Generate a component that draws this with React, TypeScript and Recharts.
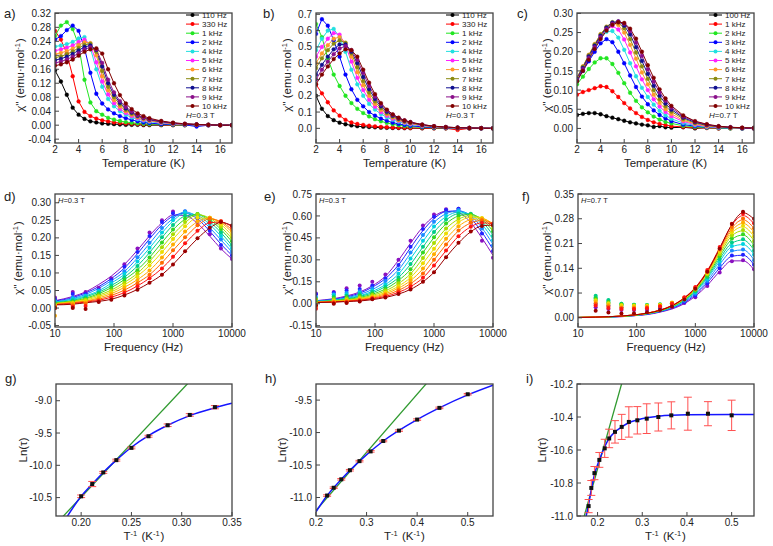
import React from "react";
import { ComposedChart, Line, XAxis, YAxis, ErrorBar } from "recharts";

const FONT = "'Liberation Sans', Arial, sans-serif";
const AX = "#444";
const INK = "#222";

// ---------- a) b) c): chi'' vs temperature ----------
const temps = [2, 2.5, 3, 3.5, 4, 4.5, 5, 5.5, 6, 6.5, 7, 7.5, 8, 8.5, 9, 9.5, 10, 11, 12, 13, 14, 15, 16, 17];
const namesAB = ["110 Hz", "330 Hz", "1 kHz", "2 kHz", "4 kHz", "5 kHz", "6 kHz", "7 kHz", "8 kHz", "9 kHz", "10 kHz"];
const namesC = ["100 Hz", "1 kHz", "2 kHz", "3 kHz", "4 kHz", "5 kHz", "6 kHz", "7 kHz", "8 kHz", "9 kHz", "10 kHz"];
const colT = ["#000000", "#ff0000", "#22e622", "#0000ff", "#22e0e0", "#ff22ff", "#ff9a2a", "#8a8a10", "#101090", "#8a108a", "#800000"];

const a110 = [0.157, 0.125, 0.087, 0.05, 0.03, 0.018, 0.011, 0.008, 0.005, 0.004, 0.003, 0.002, 0.001, 0.001, 0.001, 0, 0, 0, 0, 0, 0, 0, 0, 0];
const a330 = [0.27, 0.245, 0.205, 0.14, 0.068, 0.038, 0.026, 0.019, 0.014, 0.011, 0.008, 0.006, 0.005, 0.004, 0.003, 0.002, 0.002, 0.001, 0, 0, 0, 0, 0, 0];
const a1k = [0.255, 0.285, 0.295, 0.275, 0.23, 0.13, 0.065, 0.04, 0.03, 0.021, 0.016, 0.012, 0.009, 0.007, 0.005, 0.004, 0.003, 0.002, 0.001, 0, 0, 0, 0, 0];
const a2k = [0.245, 0.255, 0.272, 0.285, 0.27, 0.22, 0.15, 0.09, 0.062, 0.045, 0.034, 0.026, 0.02, 0.015, 0.011, 0.008, 0.006, 0.003, 0.002, 0.001, -0.004, 0, 0, 0];
const a4k = [0.225, 0.228, 0.232, 0.238, 0.248, 0.252, 0.22, 0.16, 0.11, 0.075, 0.054, 0.04, 0.03, 0.022, 0.017, 0.013, 0.01, 0.006, 0.003, 0.002, 0.001, 0, 0, 0];
const a5k = [0.213, 0.217, 0.222, 0.228, 0.238, 0.245, 0.23, 0.18, 0.125, 0.088, 0.063, 0.046, 0.035, 0.026, 0.02, 0.015, 0.012, 0.007, 0.004, 0.002, 0.001, 0, 0, 0];
const a6k = [0.203, 0.207, 0.212, 0.219, 0.229, 0.237, 0.235, 0.2, 0.14, 0.1, 0.072, 0.053, 0.04, 0.03, 0.023, 0.017, 0.013, 0.008, 0.005, 0.003, 0.002, 0.001, 0, 0];
const a7k = [0.193, 0.197, 0.203, 0.211, 0.221, 0.23, 0.233, 0.21, 0.155, 0.11, 0.08, 0.059, 0.044, 0.033, 0.025, 0.019, 0.015, 0.009, 0.005, 0.003, 0.002, 0.001, 0, 0];
const a8k = [0.186, 0.19, 0.196, 0.204, 0.214, 0.224, 0.228, 0.215, 0.168, 0.12, 0.087, 0.064, 0.048, 0.036, 0.027, 0.021, 0.016, 0.01, 0.006, 0.003, 0.002, 0.001, 0, 0];
const a9k = [0.178, 0.182, 0.188, 0.196, 0.206, 0.217, 0.223, 0.217, 0.178, 0.13, 0.094, 0.069, 0.052, 0.039, 0.029, 0.022, 0.017, 0.011, 0.006, 0.004, 0.002, 0.001, 0, 0];
const a10k = [0.17, 0.174, 0.18, 0.188, 0.199, 0.21, 0.217, 0.22, 0.205, 0.16, 0.12, 0.086, 0.062, 0.046, 0.034, 0.026, 0.02, 0.012, 0.007, 0.004, 0.002, 0.001, 0, 0];

const b110 = [0.2, 0.12, 0.075, 0.05, 0.035, 0.025, 0.018, 0.013, 0.01, 0.008, 0.006, 0.004, 0.003, 0.002, 0.002, 0.001, 0.001, 0, 0, 0, 0, 0, 0, 0];
const b330 = [0.27, 0.215, 0.16, 0.11, 0.078, 0.052, 0.036, 0.027, 0.021, 0.016, 0.012, 0.009, 0.007, 0.005, 0.004, 0.003, 0.002, 0.001, 0, 0, -0.01, 0, 0, 0];
const b1k = [0.64, 0.56, 0.43, 0.33, 0.26, 0.2, 0.155, 0.12, 0.094, 0.073, 0.056, 0.043, 0.033, 0.025, 0.019, 0.014, 0.011, 0.006, 0.003, 0.002, 0.001, 0, 0, 0];
const b2k = [0.58, 0.67, 0.63, 0.54, 0.44, 0.33, 0.24, 0.175, 0.135, 0.1, 0.078, 0.06, 0.046, 0.035, 0.027, 0.021, 0.016, 0.009, 0.005, 0.003, 0.002, 0.001, 0, 0];
const b4k = [0.48, 0.55, 0.6, 0.61, 0.56, 0.47, 0.36, 0.27, 0.2, 0.15, 0.115, 0.088, 0.068, 0.052, 0.04, 0.031, 0.024, 0.014, 0.008, 0.005, 0.003, 0.002, 0.001, 0];
const b5k = [0.44, 0.5, 0.55, 0.585, 0.575, 0.51, 0.41, 0.31, 0.235, 0.175, 0.133, 0.1, 0.077, 0.059, 0.046, 0.035, 0.027, 0.016, 0.009, 0.005, 0.003, 0.002, 0.001, 0];
const b6k = [0.4, 0.46, 0.51, 0.55, 0.56, 0.525, 0.44, 0.345, 0.265, 0.2, 0.15, 0.113, 0.086, 0.066, 0.05, 0.039, 0.03, 0.018, 0.01, 0.006, 0.003, 0.002, 0.001, 0];
const b7k = [0.37, 0.43, 0.48, 0.52, 0.54, 0.525, 0.46, 0.375, 0.29, 0.22, 0.165, 0.124, 0.094, 0.072, 0.055, 0.042, 0.033, 0.02, 0.011, 0.006, 0.004, 0.002, 0.001, 0];
const b8k = [0.33, 0.39, 0.44, 0.485, 0.515, 0.515, 0.47, 0.4, 0.315, 0.24, 0.18, 0.135, 0.102, 0.078, 0.06, 0.046, 0.036, 0.021, 0.012, 0.007, 0.004, 0.002, 0.001, 0];
const b9k = [0.3, 0.36, 0.41, 0.455, 0.49, 0.505, 0.48, 0.42, 0.34, 0.26, 0.195, 0.146, 0.11, 0.084, 0.064, 0.049, 0.038, 0.023, 0.013, 0.007, 0.004, 0.002, 0.001, 0];
const b10k = [0.27, 0.33, 0.38, 0.425, 0.46, 0.485, 0.48, 0.44, 0.36, 0.28, 0.21, 0.155, 0.115, 0.086, 0.065, 0.049, 0.038, 0.023, 0.013, 0.008, 0.004, 0.002, 0.001, 0];

const c100 = [0.035, 0.038, 0.04, 0.04, 0.037, 0.032, 0.028, 0.024, 0.02, 0.016, 0.013, 0.01, 0.008, 0.004, 0.006, 0.003, 0.002, 0.003, 0, 0.002, 0, 0.001, 0, 0.002];
const c1k = [0.088, 0.095, 0.1, 0.105, 0.11, 0.108, 0.097, 0.082, 0.066, 0.052, 0.04, 0.03, 0.022, 0.016, 0.012, 0.009, 0.006, 0.004, 0.002, 0.001, 0, 0, 0, 0];
const c2k = [0.115, 0.135, 0.155, 0.172, 0.183, 0.183, 0.168, 0.145, 0.118, 0.093, 0.072, 0.055, 0.042, 0.031, 0.023, 0.017, 0.013, 0.007, 0.004, 0.002, 0.001, 0, 0, 0];
const c3k = [0.125, 0.15, 0.175, 0.2, 0.222, 0.233, 0.225, 0.2, 0.17, 0.138, 0.108, 0.083, 0.063, 0.047, 0.035, 0.026, 0.019, 0.01, 0.006, 0.003, 0.002, 0.001, 0, 0];
const c4k = [0.13, 0.158, 0.185, 0.212, 0.236, 0.252, 0.254, 0.237, 0.205, 0.17, 0.136, 0.106, 0.082, 0.062, 0.046, 0.034, 0.025, 0.014, 0.008, 0.004, 0.002, 0.001, 0, 0];
const c5k = [0.132, 0.16, 0.19, 0.217, 0.242, 0.26, 0.267, 0.258, 0.232, 0.198, 0.162, 0.128, 0.1, 0.076, 0.057, 0.043, 0.032, 0.018, 0.01, 0.005, 0.003, 0.002, 0.001, 0];
const c6k = [0.133, 0.162, 0.192, 0.22, 0.246, 0.265, 0.275, 0.27, 0.25, 0.218, 0.182, 0.146, 0.115, 0.088, 0.067, 0.05, 0.038, 0.021, 0.012, 0.006, 0.004, 0.002, 0.001, 0];
const c7k = [0.132, 0.161, 0.191, 0.219, 0.245, 0.265, 0.277, 0.276, 0.261, 0.233, 0.198, 0.162, 0.129, 0.1, 0.076, 0.058, 0.044, 0.025, 0.014, 0.008, 0.004, 0.002, 0.001, 0];
const c8k = [0.13, 0.158, 0.188, 0.216, 0.242, 0.263, 0.276, 0.279, 0.268, 0.245, 0.212, 0.176, 0.142, 0.111, 0.085, 0.065, 0.049, 0.028, 0.016, 0.009, 0.005, 0.003, 0.001, 0];
const c9k = [0.127, 0.155, 0.184, 0.212, 0.238, 0.259, 0.273, 0.279, 0.273, 0.254, 0.224, 0.189, 0.154, 0.122, 0.094, 0.072, 0.054, 0.031, 0.018, 0.01, 0.005, 0.003, 0.001, 0];
const c10k = [0.123, 0.15, 0.179, 0.207, 0.233, 0.255, 0.27, 0.277, 0.275, 0.26, 0.234, 0.2, 0.165, 0.132, 0.102, 0.078, 0.059, 0.034, 0.019, 0.011, 0.006, 0.003, 0.002, 0.001];

// ---------- d) e) f): chi'' vs frequency (points + fits) ----------
const freqs = [10, 20, 33, 55, 90, 150, 250, 400, 650, 1000, 1600, 2600, 4200, 6500, 10000];
const rainbow = ["#8a10c0", "#2222ff", "#1a8cff", "#00d2e0", "#00cc88", "#33d622", "#a8dc00", "#ecdc00", "#ffac00", "#ff6a00", "#ff1414", "#9a0000"];

const dFit = [
  [0.021, 0.033, 0.046, 0.067, 0.091, 0.124, 0.165, 0.206, 0.243, 0.265, 0.264, 0.241, 0.205, 0.169, 0.14],
  [0.02, 0.03, 0.043, 0.061, 0.084, 0.114, 0.155, 0.197, 0.237, 0.262, 0.27, 0.254, 0.219, 0.182, 0.15],
  [0.018, 0.027, 0.039, 0.056, 0.078, 0.104, 0.143, 0.184, 0.226, 0.255, 0.274, 0.26, 0.229, 0.194, 0.16],
  [0.017, 0.025, 0.035, 0.049, 0.071, 0.096, 0.132, 0.171, 0.214, 0.248, 0.27, 0.264, 0.238, 0.205, 0.169],
  [0.016, 0.022, 0.032, 0.045, 0.064, 0.088, 0.12, 0.158, 0.201, 0.236, 0.262, 0.266, 0.246, 0.215, 0.178],
  [0.015, 0.02, 0.028, 0.041, 0.058, 0.081, 0.109, 0.144, 0.187, 0.223, 0.253, 0.267, 0.252, 0.224, 0.189],
  [0.014, 0.019, 0.026, 0.037, 0.051, 0.073, 0.099, 0.133, 0.173, 0.209, 0.243, 0.266, 0.256, 0.231, 0.198],
  [0.012, 0.018, 0.023, 0.033, 0.046, 0.066, 0.091, 0.121, 0.159, 0.196, 0.232, 0.257, 0.256, 0.238, 0.207],
  [0.011, 0.016, 0.02, 0.029, 0.041, 0.059, 0.081, 0.107, 0.144, 0.18, 0.217, 0.246, 0.256, 0.243, 0.216],
  [0.01, 0.015, 0.019, 0.025, 0.036, 0.051, 0.072, 0.095, 0.129, 0.164, 0.201, 0.235, 0.254, 0.246, 0.223],
  [0.01, 0.013, 0.017, 0.022, 0.031, 0.044, 0.063, 0.085, 0.113, 0.145, 0.184, 0.219, 0.243, 0.245, 0.231],
  [0.009, 0.011, 0.015, 0.019, 0.025, 0.037, 0.053, 0.072, 0.095, 0.124, 0.161, 0.198, 0.228, 0.244, 0.235],
];
const dPts = [
  [0.03, 0.046, 0.046, 0.058, 0.085, 0.125, 0.17, 0.215, 0.25, 0.275, 0.272, 0.245, 0.21, 0.17, 0.14],
  [0.025, 0.04, 0.04, 0.052, 0.08, 0.118, 0.16, 0.205, 0.245, 0.27, 0.275, 0.255, 0.22, 0.18, 0.15],
  [0.02, 0.03, 0.036, 0.05, 0.075, 0.105, 0.145, 0.186, 0.228, 0.258, 0.276, 0.26, 0.23, 0.195, 0.16],
  [0.018, 0.026, 0.034, 0.048, 0.07, 0.097, 0.133, 0.172, 0.215, 0.25, 0.272, 0.265, 0.24, 0.205, 0.17],
  [0.015, 0.022, 0.03, 0.044, 0.063, 0.088, 0.12, 0.158, 0.202, 0.237, 0.264, 0.268, 0.247, 0.215, 0.18],
  [0.012, 0.018, 0.026, 0.04, 0.057, 0.08, 0.108, 0.144, 0.187, 0.224, 0.255, 0.268, 0.252, 0.225, 0.19],
  [0.01, 0.016, 0.024, 0.036, 0.05, 0.072, 0.099, 0.133, 0.173, 0.21, 0.245, 0.267, 0.257, 0.232, 0.2],
  [0.008, 0.014, 0.02, 0.032, 0.045, 0.065, 0.09, 0.121, 0.16, 0.197, 0.233, 0.258, 0.257, 0.238, 0.208],
  [-0.022, 0.012, 0.016, 0.028, 0.04, 0.058, 0.08, 0.107, 0.144, 0.181, 0.218, 0.247, 0.257, 0.244, 0.218],
  [0.005, 0.008, 0.012, 0.023, 0.035, 0.05, 0.071, 0.095, 0.129, 0.165, 0.202, 0.236, 0.255, 0.247, 0.225],
  [0, 0.004, 0.006, 0.02, 0.03, 0.043, 0.062, 0.085, 0.113, 0.146, 0.185, 0.22, 0.244, 0.247, 0.232],
  [0, 0, -0.003, 0.017, 0.024, 0.036, 0.052, 0.072, 0.095, 0.124, 0.162, 0.199, 0.229, 0.245, 0.235],
];

const eFit = [
  [0.021, 0.035, 0.053, 0.08, 0.123, 0.188, 0.297, 0.414, 0.526, 0.597, 0.632, 0.622, 0.554, 0.449, 0.33],
  [0.02, 0.031, 0.047, 0.072, 0.113, 0.172, 0.265, 0.383, 0.5, 0.582, 0.63, 0.635, 0.584, 0.488, 0.371],
  [0.018, 0.028, 0.041, 0.064, 0.097, 0.151, 0.232, 0.345, 0.466, 0.556, 0.615, 0.635, 0.602, 0.518, 0.406],
  [0.016, 0.025, 0.037, 0.055, 0.084, 0.131, 0.203, 0.308, 0.427, 0.524, 0.595, 0.626, 0.609, 0.542, 0.44],
  [0.015, 0.022, 0.033, 0.05, 0.074, 0.117, 0.179, 0.27, 0.388, 0.489, 0.572, 0.614, 0.613, 0.562, 0.469],
  [0.013, 0.02, 0.029, 0.043, 0.065, 0.101, 0.159, 0.234, 0.35, 0.453, 0.546, 0.599, 0.61, 0.576, 0.496],
  [0.013, 0.019, 0.026, 0.037, 0.057, 0.088, 0.138, 0.204, 0.312, 0.414, 0.513, 0.578, 0.602, 0.583, 0.517],
  [0.012, 0.017, 0.023, 0.034, 0.05, 0.077, 0.12, 0.179, 0.276, 0.375, 0.479, 0.557, 0.591, 0.586, 0.536],
  [0.01, 0.015, 0.02, 0.03, 0.044, 0.068, 0.106, 0.158, 0.239, 0.337, 0.443, 0.529, 0.574, 0.58, 0.547],
  [0.01, 0.014, 0.018, 0.026, 0.038, 0.059, 0.091, 0.137, 0.206, 0.299, 0.404, 0.498, 0.552, 0.569, 0.549],
  [0.009, 0.012, 0.017, 0.023, 0.034, 0.05, 0.078, 0.117, 0.177, 0.261, 0.363, 0.461, 0.526, 0.553, 0.547],
  [0.008, 0.011, 0.015, 0.019, 0.028, 0.043, 0.066, 0.098, 0.15, 0.215, 0.318, 0.415, 0.492, 0.532, 0.538],
];
const ePts = [
  [0.07, 0.08, 0.105, 0.125, 0.15, 0.2, 0.3, 0.43, 0.535, 0.61, 0.645, 0.65, 0.555, 0.43, 0.315],
  [0.065, 0.075, 0.09, 0.1, 0.125, 0.175, 0.265, 0.39, 0.51, 0.595, 0.64, 0.65, 0.59, 0.48, 0.36],
  [0.045, 0.065, 0.075, 0.085, 0.105, 0.155, 0.235, 0.35, 0.47, 0.56, 0.62, 0.64, 0.6, 0.515, 0.4],
  [0.04, 0.06, 0.065, 0.075, 0.09, 0.13, 0.205, 0.31, 0.43, 0.528, 0.6, 0.63, 0.61, 0.54, 0.435],
  [0.03, 0.05, 0.055, 0.065, 0.08, 0.115, 0.18, 0.272, 0.39, 0.49, 0.575, 0.615, 0.615, 0.56, 0.465],
  [0.02, 0.04, 0.045, 0.055, 0.07, 0.1, 0.16, 0.235, 0.35, 0.455, 0.548, 0.6, 0.61, 0.575, 0.495],
  [0.03, 0.03, 0.035, 0.045, 0.06, 0.09, 0.14, 0.205, 0.312, 0.415, 0.515, 0.58, 0.602, 0.582, 0.515],
  [0, 0.02, 0.025, 0.035, 0.05, 0.078, 0.12, 0.18, 0.277, 0.376, 0.48, 0.558, 0.592, 0.586, 0.535],
  [-0.01, 0.015, 0.02, 0.03, 0.045, 0.068, 0.106, 0.158, 0.24, 0.338, 0.444, 0.53, 0.575, 0.58, 0.545],
  [-0.02, 0.01, 0.015, 0.025, 0.04, 0.06, 0.092, 0.137, 0.206, 0.3, 0.405, 0.5, 0.553, 0.57, 0.548],
  [-0.035, 0.005, 0.01, 0.02, 0.035, 0.05, 0.078, 0.117, 0.177, 0.262, 0.364, 0.462, 0.527, 0.553, 0.546],
  [-0.01, 0, 0.005, 0.015, 0.03, 0.043, 0.066, 0.098, 0.15, 0.216, 0.318, 0.416, 0.493, 0.532, 0.537],
];

const fFit = [
  [0.001, 0.001, 0.002, 0.003, 0.006, 0.009, 0.016, 0.025, 0.04, 0.061, 0.092, 0.131, 0.161, 0.161, 0.136],
  [0.001, 0.001, 0.002, 0.004, 0.006, 0.01, 0.017, 0.027, 0.043, 0.065, 0.099, 0.141, 0.174, 0.177, 0.15],
  [0.001, 0.001, 0.002, 0.004, 0.006, 0.011, 0.018, 0.028, 0.046, 0.069, 0.105, 0.151, 0.188, 0.192, 0.164],
  [0.001, 0.001, 0.002, 0.004, 0.007, 0.011, 0.019, 0.03, 0.048, 0.073, 0.111, 0.16, 0.201, 0.207, 0.179],
  [0.001, 0.002, 0.003, 0.004, 0.007, 0.012, 0.019, 0.031, 0.05, 0.075, 0.115, 0.167, 0.211, 0.22, 0.192],
  [0.001, 0.002, 0.003, 0.004, 0.007, 0.012, 0.02, 0.032, 0.051, 0.078, 0.119, 0.174, 0.222, 0.234, 0.205],
  [0.001, 0.002, 0.003, 0.004, 0.007, 0.012, 0.02, 0.033, 0.053, 0.08, 0.123, 0.18, 0.232, 0.246, 0.218],
  [0.001, 0.002, 0.003, 0.005, 0.008, 0.013, 0.021, 0.033, 0.054, 0.082, 0.126, 0.185, 0.24, 0.257, 0.23],
  [0.001, 0.002, 0.003, 0.005, 0.008, 0.013, 0.021, 0.034, 0.055, 0.083, 0.128, 0.189, 0.247, 0.267, 0.242],
  [0.001, 0.002, 0.003, 0.005, 0.008, 0.013, 0.022, 0.034, 0.056, 0.084, 0.13, 0.193, 0.254, 0.277, 0.253],
  [0.001, 0.002, 0.003, 0.005, 0.008, 0.013, 0.022, 0.035, 0.057, 0.086, 0.133, 0.198, 0.262, 0.289, 0.266],
  [0.001, 0.002, 0.003, 0.005, 0.008, 0.013, 0.021, 0.034, 0.056, 0.084, 0.131, 0.196, 0.264, 0.297, 0.279],
];
const fPts = [
  [null, 0.03, 0.025, 0.022, 0.022, 0.022, 0.025, 0.03, 0.042, 0.058, 0.09, 0.128, 0.16, 0.163, 0.137],
  [null, 0.04, 0.035, 0.03, 0.028, 0.028, 0.03, 0.034, 0.045, 0.063, 0.097, 0.14, 0.176, 0.178, 0.15],
  [null, 0.05, 0.042, 0.035, 0.033, 0.032, 0.034, 0.037, 0.048, 0.068, 0.104, 0.15, 0.19, 0.193, 0.163],
  [null, 0.058, 0.048, 0.04, 0.037, 0.036, 0.037, 0.04, 0.05, 0.072, 0.11, 0.16, 0.203, 0.209, 0.178],
  [null, 0.062, 0.05, 0.04, 0.037, 0.036, 0.038, 0.041, 0.052, 0.075, 0.115, 0.166, 0.213, 0.222, 0.19],
  [null, 0.055, 0.045, 0.038, 0.036, 0.035, 0.037, 0.041, 0.053, 0.078, 0.119, 0.174, 0.224, 0.236, 0.204],
  [null, 0.05, 0.042, 0.036, 0.035, 0.035, 0.037, 0.042, 0.054, 0.08, 0.123, 0.18, 0.233, 0.248, 0.217],
  [null, 0.048, 0.04, 0.035, 0.034, 0.034, 0.037, 0.043, 0.056, 0.082, 0.126, 0.186, 0.241, 0.26, 0.23],
  [null, 0.045, 0.036, 0.03, 0.03, 0.031, 0.035, 0.042, 0.057, 0.084, 0.129, 0.19, 0.249, 0.27, 0.242],
  [null, 0.04, 0.032, 0.028, 0.027, 0.029, 0.033, 0.041, 0.057, 0.085, 0.131, 0.195, 0.257, 0.281, 0.253],
  [null, 0.035, 0.028, 0.025, 0.025, 0.027, 0.032, 0.04, 0.058, 0.087, 0.135, 0.2, 0.266, 0.295, 0.267],
  [null, 0.02, 0.015, 0.012, 0.013, 0.016, 0.022, 0.032, 0.052, 0.082, 0.13, 0.195, 0.265, 0.3, 0.28],
];

// ---------- g) h) i): ln(tau) vs 1/T ----------
const gX = [0.2, 0.211, 0.222, 0.235, 0.25, 0.267, 0.286, 0.308, 0.333];
const gY = [-10.48, -10.29, -10.11, -9.92, -9.73, -9.55, -9.38, -9.22, -9.1];
const gErr = [0.02, 0.04, 0.015, 0.015, 0.015, 0.015, 0.02, 0.02, 0.025];
const gFitX = [0.185, 0.2, 0.211, 0.222, 0.235, 0.25, 0.267, 0.286, 0.308, 0.333, 0.35];
const gFitY = [-10.82, -10.48, -10.29, -10.11, -9.92, -9.72, -9.54, -9.38, -9.23, -9.11, -9.04];
const gArrX = [0.18, 0.31];
const gArrY = [-10.825, -8.667];

const hX = [0.222, 0.235, 0.25, 0.267, 0.286, 0.308, 0.333, 0.364, 0.4, 0.444, 0.5];
const hY = [-10.97, -10.85, -10.72, -10.58, -10.44, -10.29, -10.13, -9.97, -9.8, -9.62, -9.41];
const hErr = [0.012, 0.012, 0.012, 0.012, 0.012, 0.012, 0.012, 0.012, 0.012, 0.012, 0.012];
const hFitX = [0.2, 0.222, 0.25, 0.286, 0.333, 0.4, 0.444, 0.5, 0.55];
const hFitY = [-11.22, -10.97, -10.72, -10.44, -10.13, -9.8, -9.62, -9.42, -9.27];
const hArrX = [0.2, 0.42];
const hArrY = [-11.2, -9.23];

const iX = [0.18, 0.186, 0.193, 0.204, 0.216, 0.226, 0.239, 0.254, 0.27, 0.289, 0.31, 0.336, 0.365, 0.402, 0.447, 0.5];
const iY = [-10.94, -10.83, -10.74, -10.66, -10.59, -10.53, -10.49, -10.46, -10.43, -10.42, -10.41, -10.4, -10.39, -10.38, -10.38, -10.39];
const iErr = [0.04, 0.045, 0.04, 0.045, 0.055, 0.056, 0.068, 0.076, 0.092, 0.083, 0.09, 0.085, 0.082, 0.1, 0.073, 0.092];
const iFitX = [0.172, 0.18, 0.186, 0.193, 0.204, 0.216, 0.226, 0.239, 0.254, 0.27, 0.289, 0.31, 0.336, 0.4, 0.5, 0.55];
const iFitY = [-11.03, -10.93, -10.84, -10.75, -10.66, -10.58, -10.53, -10.49, -10.46, -10.435, -10.418, -10.405, -10.395, -10.387, -10.385, -10.385];
const iArrX = [0.165, 0.26];
const iArrY = [-11.05, -10.14];

// plot frames in page pixels: [left, top, right, bottom]
const FR = {
  a: [55, 13, 232, 143], b: [316, 13, 493, 143], c: [577, 13, 754, 143],
  d: [55, 194, 232, 327], e: [316, 194, 493, 327], f: [578, 194, 754, 327],
  g: [56, 384, 232, 516], h: [316, 384, 493, 516], i: [577, 384, 754, 516],
};

const PL = 60, PT = 8, PR = 22, PB = 22, TM = 2;

const rows = (xs: number[], ys: (number | null)[], es?: number[]) =>
  xs.flatMap((x, k) => (ys[k] == null ? [] : [{ x, y: ys[k], e: es ? es[k] : 0 }]));

const f0 = (v: number) => String(v);
const f1 = (v: number) => v.toFixed(1);
const f2 = (v: number) => v.toFixed(2);

const XTick = (p: any) => (
  <g>
    <line x1={p.x} x2={p.x} y1={p.y - TM} y2={p.y - TM - 4} stroke={AX} />
    <text x={p.x} y={p.y} dy="0.78em" textAnchor="middle" fontSize={10} fill={INK} fontFamily={FONT}>
      {p.fmt(p.payload.value)}
    </text>
  </g>
);
const YTick = (p: any) => (
  <g>
    <line x1={p.x + 4} x2={p.x + 8} y1={p.y} y2={p.y} stroke={AX} />
    <text x={p.x} y={p.y} dy="0.36em" textAnchor="end" fontSize={10} fill={INK} fontFamily={FONT}>
      {p.fmt(p.payload.value)}
    </text>
  </g>
);

type Ax = { domain: number[]; ticks: number[]; fmt: (v: number) => string; log?: boolean };

function Plot({ fr, xa, ya, children }: { fr: number[]; xa: Ax; ya: Ax; children: any }) {
  const [x0, y0, x1, y1] = fr;
  return (
    <div style={{ position: "absolute", left: x0 - PL, top: y0 - PT }}>
      <ComposedChart width={x1 - x0 + PL + PR} height={y1 - y0 + PT + PB} margin={{ top: PT, right: PR, bottom: 0, left: 0 }}>
        <XAxis type="number" dataKey="x" scale={xa.log ? "log" : "linear"} domain={xa.domain} ticks={xa.ticks}
          allowDataOverflow interval={0} height={PB} axisLine={false} tickSize={0} tickMargin={TM}
          tick={(p: any) => <XTick {...p} fmt={xa.fmt} />} />
        <YAxis type="number" domain={ya.domain} ticks={ya.ticks} allowDataOverflow interval={0} width={PL}
          axisLine={false} tickSize={0} tickMargin={4} tick={(p: any) => <YTick {...p} fmt={ya.fmt} />} />
        {children}
      </ComposedChart>
    </div>
  );
}

const xTemp: Ax = { domain: [2, 17], ticks: [2, 4, 6, 8, 10, 12, 14, 16], fmt: f0 };
const xFreq: Ax = { domain: [10, 10000], ticks: [10, 100, 1000, 10000], fmt: f0, log: true };

function TempPlot({ fr, ya, series }: { fr: number[]; ya: Ax; series: number[][] }) {
  return (
    <Plot fr={fr} xa={xTemp} ya={ya}>
      {series.map((ys, k) => (
        <Line key={k} data={rows(temps, ys)} dataKey="y" type="linear" stroke={colT[k]} strokeWidth={1}
          dot={{ r: 1.9, fill: colT[k], stroke: colT[k], strokeWidth: 0.4 }} activeDot={false} isAnimationActive={false} />
      ))}
    </Plot>
  );
}

function FreqPlot({ fr, ya, fits, dots }: { fr: number[]; ya: Ax; fits: number[][]; dots: (number | null)[][] }) {
  return (
    <Plot fr={fr} xa={xFreq} ya={ya}>
      {dots.map((ys, k) => (
        <Line key={"p" + k} data={rows(freqs, ys)} dataKey="y" stroke="none"
          dot={{ r: 2, fill: rainbow[k], stroke: "none" }} activeDot={false} isAnimationActive={false} />
      ))}
      {fits.map((ys, k) => (
        <Line key={"f" + k} data={rows(freqs, ys)} dataKey="y" type="monotone" stroke={rainbow[k]} strokeWidth={1}
          dot={false} activeDot={false} isAnimationActive={false} />
      ))}
    </Plot>
  );
}

const Square = (p: any) =>
  p.cx == null || p.cy == null ? <g key={p.key} /> : <rect key={p.key} x={p.cx - 2} y={p.cy - 2} width={4} height={4} fill="#111" />;

function TauPlot(props: { fr: number[]; xa: Ax; ya: Ax; px: number[]; py: number[]; pe: number[]; fx: number[]; fy: number[]; ax: number[]; ay: number[] }) {
  const { fr, xa, ya, px, py, pe, fx, fy, ax, ay } = props;
  return (
    <Plot fr={fr} xa={xa} ya={ya}>
      <Line data={rows(ax, ay)} dataKey="y" type="linear" stroke="#2f9a2f" strokeWidth={1.3} dot={false} activeDot={false} isAnimationActive={false} />
      <Line data={rows(fx, fy)} dataKey="y" type="monotone" stroke="#1515ff" strokeWidth={1.5} dot={false} activeDot={false} isAnimationActive={false} />
      <Line data={rows(px, py, pe)} dataKey="y" stroke="none" dot={Square} activeDot={false} isAnimationActive={false}>
        <ErrorBar dataKey="e" direction="y" width={4} stroke="#ff5050" strokeWidth={1} />
      </Line>
    </Plot>
  );
}

const Sup = ({ t }: { t: string }) => (
  <>
    <tspan dy={-4} fontSize={7.5}>{t}</tspan>
    <tspan dy={4}>{"\u200A"}</tspan>
  </>
);

const ChiTitle = ({ x, y }: { x: number; y: number }) => (
  <text transform={`translate(${x},${y}) rotate(-90)`} textAnchor="middle" fontSize={11.5} fill={INK}>
    χ'' (emu·mol<Sup t="-1" />)
  </text>
);
const LnTitle = ({ x, y }: { x: number; y: number }) => (
  <text transform={`translate(${x},${y}) rotate(-90)`} textAnchor="middle" fontSize={11.5} fill={INK}>Ln(τ)</text>
);
const XTitle = ({ fr, children }: { fr: number[]; children: any }) => (
  <text x={(fr[0] + fr[2]) / 2} y={fr[3] + 24} textAnchor="middle" fontSize={11.5} fill={INK}>{children}</text>
);
const InvT = () => (
  <>
    T<Sup t="-1" /> (K<Sup t="-1" />)
  </>
);

const LegendBox = ({ x, y, names, field }: { x: number; y: number; names: string[]; field: string }) => (
  <g>
    {names.map((n, k) => (
      <g key={n}>
        <line x1={x} x2={x + 13} y1={y + k * 9.1} y2={y + k * 9.1} stroke={colT[k]} strokeWidth={1} />
        <circle cx={x + 6.5} cy={y + k * 9.1} r={2} fill={colT[k]} />
        <text x={x + 16} y={y + k * 9.1 + 2.8} fontSize={8} fill={INK}>{n}</text>
      </g>
    ))}
    <text x={x} y={y + names.length * 9.1 + 3} fontSize={8} fill={INK}>
      <tspan fontStyle="italic">H</tspan>={field}
    </text>
  </g>
);

const Field = ({ fr, field }: { fr: number[]; field: string }) => (
  <text x={fr[0] + 3} y={fr[1] + 9} fontSize={7.5} fill={INK}>
    <tspan fontStyle="italic">H</tspan>={field}
  </text>
);

function Overlay() {
  const frames = Object.values(FR);
  return (
    <svg width={773} height={546} style={{ position: "absolute", left: 0, top: 0, pointerEvents: "none" }} fontFamily={FONT}>
      {frames.map((fr, k) => (
        <rect key={k} x={fr[0]} y={fr[1]} width={fr[2] - fr[0]} height={fr[3] - fr[1]} fill="none" stroke={AX} strokeWidth={1.3} />
      ))}
      <g fontSize={13} fill={INK}>
        <text x={4} y={18}>a)</text>
        <text x={263} y={18}>b)</text>
        <text x={517} y={18}>c)</text>
        <text x={4} y={201}>d)</text>
        <text x={264} y={201}>e)</text>
        <text x={522} y={201}>f)</text>
        <text x={5} y={383}>g)</text>
        <text x={265} y={383}>h)</text>
        <text x={526} y={383}>i)</text>
      </g>
      <ChiTitle x={24} y={75} />
      <ChiTitle x={291} y={75} />
      <ChiTitle x={551} y={75} />
      <ChiTitle x={22} y={258} />
      <ChiTitle x={291} y={258} />
      <ChiTitle x={551} y={258} />
      <LnTitle x={27} y={450} />
      <LnTitle x={286} y={450} />
      <LnTitle x={546} y={450} />
      <XTitle fr={FR.a}>Temperature (K)</XTitle>
      <XTitle fr={FR.b}>Temperature (K)</XTitle>
      <XTitle fr={FR.c}>Temperature (K)</XTitle>
      <XTitle fr={FR.d}>Frequency (Hz)</XTitle>
      <XTitle fr={FR.e}>Frequency (Hz)</XTitle>
      <XTitle fr={FR.f}>Frequency (Hz)</XTitle>
      <XTitle fr={FR.g}><InvT /></XTitle>
      <XTitle fr={FR.h}><InvT /></XTitle>
      <XTitle fr={FR.i}><InvT /></XTitle>
      <LegendBox x={186} y={15} names={namesAB} field="0.3 T" />
      <LegendBox x={446} y={15} names={namesAB} field="0.3 T" />
      <LegendBox x={709} y={15} names={namesC} field="0.7 T" />
      <Field fr={FR.d} field="0.3 T" />
      <Field fr={FR.e} field="0.3 T" />
      <Field fr={FR.f} field="0.7 T" />
    </svg>
  );
}

export default function App() {
  return (
    <div style={{ position: "absolute", left: 0, top: 0, width: 773, height: 546, background: "#fff", fontFamily: FONT, overflow: "hidden" }}>
      <TempPlot fr={FR.a} series={[a110, a330, a1k, a2k, a4k, a5k, a6k, a7k, a8k, a9k, a10k]}
        ya={{ domain: [-0.051, 0.321], ticks: [-0.04, 0, 0.04, 0.08, 0.12, 0.16, 0.2, 0.24, 0.28, 0.32], fmt: f2 }} />
      <TempPlot fr={FR.b} series={[b110, b330, b1k, b2k, b4k, b5k, b6k, b7k, b8k, b9k, b10k]}
        ya={{ domain: [-0.09, 0.708], ticks: [0, 0.1, 0.2, 0.3, 0.4, 0.5, 0.6, 0.7], fmt: f1 }} />
      <TempPlot fr={FR.c} series={[c100, c1k, c2k, c3k, c4k, c5k, c6k, c7k, c8k, c9k, c10k]}
        ya={{ domain: [-0.038, 0.301], ticks: [0, 0.05, 0.1, 0.15, 0.2, 0.25, 0.3], fmt: f2 }} />

      <FreqPlot fr={FR.d} fits={dFit} dots={dPts}
        ya={{ domain: [-0.054, 0.325], ticks: [-0.05, 0, 0.05, 0.1, 0.15, 0.2, 0.25, 0.3], fmt: f2 }} />
      <FreqPlot fr={FR.e} fits={eFit} dots={ePts}
        ya={{ domain: [-0.159, 0.75], ticks: [-0.15, 0, 0.15, 0.3, 0.45, 0.6, 0.75], fmt: f2 }} />
      <FreqPlot fr={FR.f} fits={fFit} dots={fPts}
        ya={{ domain: [-0.026, 0.35], ticks: [0, 0.07, 0.14, 0.21, 0.28, 0.35], fmt: f2 }} />

      <TauPlot fr={FR.g} xa={{ domain: [0.175, 0.35], ticks: [0.2, 0.25, 0.3, 0.35], fmt: f2 }}
        ya={{ domain: [-10.785, -8.741], ticks: [-10.5, -10, -9.5, -9], fmt: f1 }}
        px={gX} py={gY} pe={gErr} fx={gFitX} fy={gFitY} ax={gArrX} ay={gArrY} />
      <TauPlot fr={FR.h} xa={{ domain: [0.2, 0.55], ticks: [0.2, 0.3, 0.4, 0.5], fmt: f1 }}
        ya={{ domain: [-11.285, -9.252], ticks: [-11, -10.5, -10, -9.5], fmt: f1 }}
        px={hX} py={hY} pe={hErr} fx={hFitX} fy={hFitY} ax={hArrX} ay={hArrY} />
      <TauPlot fr={FR.i} xa={{ domain: [0.154, 0.55], ticks: [0.2, 0.3, 0.4, 0.5], fmt: f1 }}
        ya={{ domain: [-11, -10.2], ticks: [-11, -10.8, -10.6, -10.4, -10.2], fmt: f1 }}
        px={iX} py={iY} pe={iErr} fx={iFitX} fy={iFitY} ax={iArrX} ay={iArrY} />

      <Overlay />
    </div>
  );
}
